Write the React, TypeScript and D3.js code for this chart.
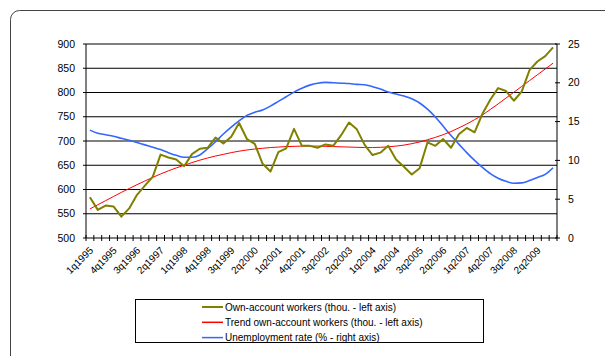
import React from "react";
import * as d3 from "d3";

// Quarterly categories 1q1995 .. 4q2009
const years = d3.range(1995, 2010);
const quarters: string[] = years.flatMap((y) => [1, 2, 3, 4].map((q) => `${q}q${y}`));

// Own-account workers (thousands, left axis)
const ownAccount = [
  584, 558, 567, 565, 544, 561, 589, 608, 626, 672,
  666, 662, 648, 673, 684, 686, 707, 695, 709, 737,
  704, 694, 653, 637, 677, 685, 725, 690, 690, 686,
  693, 690, 712, 738, 724, 692, 671, 676, 690, 662,
  647, 631, 644, 697, 690, 704, 686, 714, 727, 718,
  756, 785, 809, 803, 783, 802, 846, 864, 875, 893,
];

// Trend of own-account workers (thousands, left axis)
const ownAccountTrend = [
  560, 568.5, 577, 585.5, 594, 602, 610, 617.5, 625, 632,
  638.5, 644.5, 650, 655.5, 660.5, 665, 669, 672.5, 676, 679,
  681.5, 683.5, 685, 686.5, 687.5, 688.5, 689, 689.5, 689.5, 689.5,
  689, 688.5, 688, 687.5, 687, 686.5, 686.5, 687, 688, 689.5,
  691.5, 694.5, 698, 702.5, 707.5, 713, 719.5, 727, 735, 744,
  753.5, 765, 776.5, 788.5, 800.5, 812.5, 824.5, 836.5, 848.5, 860.5,
];

// Unemployment rate (%, right axis)
const unemployment = [
  13.9, 13.5, 13.3, 13.1, 12.85, 12.6, 12.3, 12.0, 11.7, 11.4,
  11.0, 10.65, 10.4, 10.4, 10.7, 11.5, 12.4, 13.4, 14.3, 15.1,
  15.8, 16.2, 16.5, 17.0, 17.6, 18.2, 18.8, 19.3, 19.7, 19.95,
  20.05, 20.0, 19.95, 19.9, 19.8, 19.75, 19.5, 19.2, 18.8, 18.55,
  18.3, 17.95, 17.4, 16.6, 15.6, 14.4, 13.2, 12.1, 11.0, 10.0,
  9.1, 8.3, 7.7, 7.3, 7.05, 7.1, 7.4, 7.8, 8.2, 9.05,
];

const leftTicks = [500, 550, 600, 650, 700, 750, 800, 850, 900];
const rightTicks = [0, 5, 10, 15, 20, 25];

const legendItems = [
  { label: "Own-account workers (thou. - left axis)", color: "#808000" },
  { label: "Trend own-account workers (thou. - left axis)", color: "#FF0000" },
  { label: "Unemployment rate (% - right axis)", color: "#3366FF" },
];

const W = 605;
const H = 356;
const plot = { left: 86, right: 557, top: 44, bottom: 238 };
const font = "'Liberation Sans', Arial, sans-serif";

export default function App() {
  const x = d3.scaleLinear().domain([0, quarters.length]).range([plot.left, plot.right]);
  const yL = d3.scaleLinear().domain([500, 900]).range([plot.bottom, plot.top]);
  const yR = d3.scaleLinear().domain([0, 25]).range([plot.bottom, plot.top]);
  const cx = (i: number) => x(i + 0.5);

  const leftLine = d3.line<number>().x((_, i) => cx(i)).y((d) => yL(d));
  const rightLine = d3
    .line<number>()
    .x((_, i) => cx(i))
    .y((d) => yR(d))
    .curve(d3.curveMonotoneX);
  const trendLine = d3
    .line<number>()
    .x((_, i) => cx(i))
    .y((d) => yL(d))
    .curve(d3.curveMonotoneX);

  return (
    <svg
      width={W}
      height={H}
      style={{ position: "absolute", left: 0, top: 0, background: "#fff" }}
      fontFamily={font}
    >
      {/* outer frame */}
      <rect x={10.5} y={10.5} width={640} height={360} rx={9} fill="none" stroke="#444" strokeWidth={1} />

      {/* horizontal gridlines */}
      {leftTicks.slice(1).map((t) => (
        <line key={t} x1={plot.left} x2={plot.right} y1={yL(t)} y2={yL(t)} stroke="#000" strokeWidth={1} />
      ))}

      {/* axes */}
      <line x1={plot.left} x2={plot.left} y1={plot.top} y2={plot.bottom} stroke="#000" />
      <line x1={plot.right} x2={plot.right} y1={plot.top} y2={plot.bottom} stroke="#000" />
      <line x1={plot.left} x2={plot.right} y1={plot.bottom} y2={plot.bottom} stroke="#000" />

      {/* left ticks and labels */}
      {leftTicks.map((t) => (
        <g key={t}>
          <line x1={plot.left - 3} x2={plot.left} y1={yL(t)} y2={yL(t)} stroke="#000" />
          <text x={75} y={yL(t)} dy="0.35em" textAnchor="end" fontSize={10.5} fill="#000">
            {t}
          </text>
        </g>
      ))}

      {/* right ticks and labels */}
      {rightTicks.map((t) => (
        <g key={t}>
          <line x1={plot.right - 2} x2={plot.right + 3} y1={yR(t)} y2={yR(t)} stroke="#000" />
          <text x={568} y={yR(t)} dy="0.35em" textAnchor="start" fontSize={10.5} fill="#000">
            {t}
          </text>
        </g>
      ))}

      {/* category ticks */}
      {d3.range(quarters.length + 1).map((k) => (
        <line key={k} x1={x(k)} x2={x(k)} y1={plot.bottom - 3} y2={plot.bottom + 3} stroke="#000" />
      ))}

      {/* category labels, every third quarter */}
      {quarters.map((q, i) =>
        i % 3 === 0 ? (
          <text
            key={q}
            transform={`translate(${cx(i) + 4},${plot.bottom + 13}) rotate(-45)`}
            textAnchor="end"
            fontSize={10}
            fill="#000"
          >
            {q}
          </text>
        ) : null
      )}

      {/* series */}
      <path d={rightLine(unemployment) ?? ""} fill="none" stroke="#3366FF" strokeWidth={1.6} />
      <path d={trendLine(ownAccountTrend) ?? ""} fill="none" stroke="#FF0000" strokeWidth={1} />
      <path d={leftLine(ownAccount) ?? ""} fill="none" stroke="#808000" strokeWidth={2} strokeLinejoin="round" />

      {/* legend */}
      <rect x={135.5} y={299.5} width={348} height={43} fill="#fff" stroke="#000" strokeWidth={1} />
      {legendItems.map((item, i) => {
        const y = 307 + i * 15.3;
        return (
          <g key={item.label}>
            <line x1={202} x2={223} y1={y} y2={y} stroke={item.color} strokeWidth={i === 0 ? 2 : 1.5} />
            <text x={225} y={y} dy="0.35em" fontSize={10} fill="#000">
              {item.label}
            </text>
          </g>
        );
      })}
    </svg>
  );
}
